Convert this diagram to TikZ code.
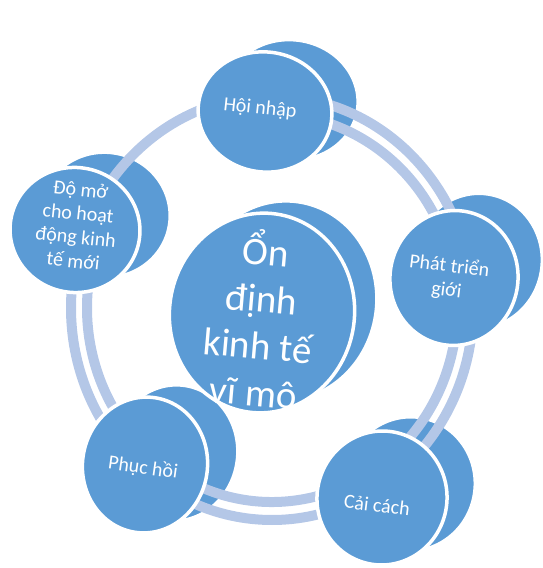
\documentclass[tikz,border=0pt]{standalone}
\usepackage{fontspec}
\setmainfont{Carlito}
\usetikzlibrary{shapes.geometric}
\definecolor{discblue}{RGB}{91,155,213}
\definecolor{ringblue}{RGB}{180,199,231}

\begin{document}
\begin{tikzpicture}[x=1pt, y=1pt,
    backdisc/.style={ellipse, fill=discblue, draw=white, line width=3pt, inner sep=0pt},
    frontdisc/.style={ellipse, fill=discblue, draw=white, line width=3.5pt, inner sep=0pt},
    disctext/.style={text=white, align=center, font=\fontsize{20}{24}\selectfont},
    band/.style={ringblue, line width=10pt}]
    \useasboundingbox (0,0) rectangle (543,568);

    % Back faces of the discs
    \node[backdisc, minimum width=185, minimum height=200, rotate=-8] (centre-back) at (284,267) {};
    \node[backdisc, minimum width=134, minimum height=120, rotate=-8] (hoinhap-back) at (291,468) {};
    \node[backdisc, minimum width=128, minimum height=135, rotate=-8] (phattrien-back) at (478,307) {};
    \node[backdisc, minimum width=130, minimum height=134, rotate=-8] (caicach-back) at (410,84) {};
    \node[backdisc, minimum width=125, minimum height=136, rotate=-8] (phuchoi-back) at (175,115) {};
    \node[backdisc, minimum width=130, minimum height=125, rotate=-8] (domo-back) at (105,353) {};

    % Ring: outer band all round, inner band not between Do mo and Hoi nhap
    \coordinate (ringc) at (272,260);
    \draw[band] (ringc) ellipse [x radius=201, y radius=212];
    \draw[band] ([shift={(100:185 and 194)}]ringc) arc[start angle=100, end angle=-200, x radius=185, y radius=194];

    % Front faces of the discs
    \node[frontdisc, minimum width=185, minimum height=200, rotate=-8] (centre) at (262,255) {};
    \node[frontdisc, minimum width=134, minimum height=120, rotate=-8] (hoinhap) at (265,456) {};
    \node[frontdisc, minimum width=128, minimum height=135, rotate=-8] (phattrien) at (454,290) {};
    \node[frontdisc, minimum width=130, minimum height=134, rotate=-8] (caicach) at (382,70) {};
    \node[frontdisc, minimum width=125, minimum height=136, rotate=-8] (phuchoi) at (145,103) {};
    \node[frontdisc, minimum width=130, minimum height=125, rotate=-8] (domo) at (75,338) {};

    % Labels
    \node[disctext, font=\fontsize{39}{47}\selectfont, rotate=-5] (centre-text) at ([shift={(-2,-5)}]centre) {Ổn\\định\\kinh tế\\vĩ mô};
    \node[disctext, rotate=-6] (hoinhap-text) at ([shift={(-5,3)}]hoinhap) {Hội nhập};
    \node[disctext, rotate=-7] (phattrien-text) at ([shift={(-6,0)}]phattrien) {Phát triển\\giới};
    \node[disctext, rotate=-7] (caicach-text) at ([shift={(-5,-7)}]caicach) {Cải cách};
    \node[disctext, rotate=-8] (phuchoi-text) at ([shift={(-2,-3)}]phuchoi) {Phục hồi};
    \node[disctext, rotate=-6] (domo-text) at ([shift={(2,5)}]domo) {Độ mở\\cho hoạt\\động kinh\\tế mới};
\end{tikzpicture}
\end{document}
